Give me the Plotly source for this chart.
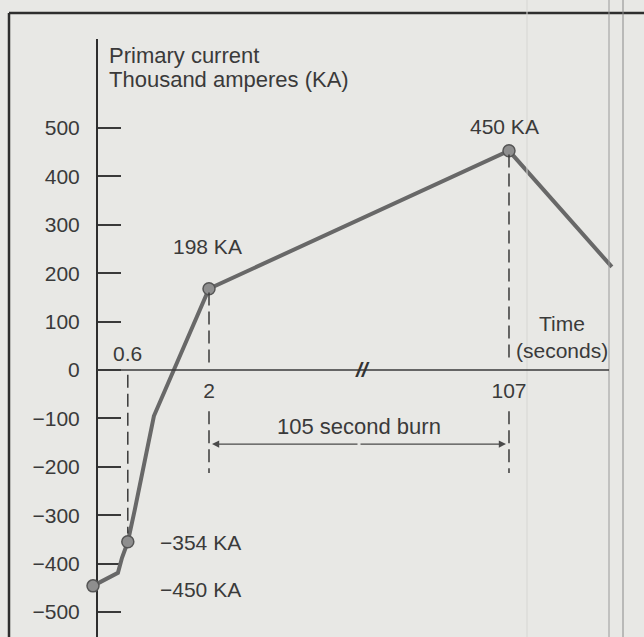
import plotly.graph_objects as go

# ---------------- data ----------------
times = [0, 0.43, 0.5, 0.6, 0.72, 0.86, 1.05, 2.0, 107, 143]          # seconds
current = [-446, -419, -388, -355, -289, -207, -95, 168, 453, 213]   # KA

marker_times = [0, 0.6, 2, 107]
marker_values = [-446, -355, 168, 453]
marker_labels = ["\u2212450 KA", "\u2212354 KA", "198 KA", "450 KA"]

y_ticks = [-500, -400, -300, -200, -100, 0, 100, 200, 300, 400, 500]
y_ticktext = [("\u2212" + str(-v)) if v < 0 else str(v) for v in y_ticks]

x_tick_times = [2, 107]
x_ticktext = ["2", "107"]
small_tick_time = 0.6
small_tick_text = "0.6"

burn_start, burn_end = 2, 107
burn_text = "105 second burn"

# ---------------- broken time axis ----------------
BREAK_AT = 2.0
AFTER_BREAK_SCALE = 0.04926  # compression of the time axis after the break


def disp(t):
    return t if t <= BREAK_AT else BREAK_AT + (t - BREAK_AT) * AFTER_BREAK_SCALE


W, H = 644, 637
AX_X = 97      # pixel of vertical axis
DOM_X0 = 78    # pixel where the plotting domain starts
AX_TOP = 39    # pixel top of vertical axis
ZERO_Y = 370   # pixel of the time axis
X_PER_UNIT = 58.0
T0_PX = 93
Y_PER_KA = 0.484

x_range = [(DOM_X0 - T0_PX) / X_PER_UNIT, (W - T0_PX) / X_PER_UNIT]
y_range = [(ZERO_Y - H) / Y_PER_KA, (ZERO_Y - AX_TOP) / Y_PER_KA]

INK = "#3a3a3a"
BG = "#e8e8e5"
FONT = "Liberation Sans, Arial, sans-serif"
FS = 21
FS_BIG = 22


def px(x):
    return x / W


def py(y):
    return 1 - y / H


fig = go.Figure()

fig.add_trace(go.Scatter(
    x=[disp(t) for t in times], y=current, mode="lines",
    line=dict(color="#686868", width=4), cliponaxis=False, hoverinfo="skip",
))
fig.add_trace(go.Scatter(
    x=[disp(t) for t in marker_times], y=marker_values, mode="markers",
    marker=dict(size=12, color="#8e8e8e", line=dict(color="#555555", width=1.5)),
    cliponaxis=False, hoverinfo="skip",
))

shapes = []
# frame of the scanned page
shapes.append(dict(type="line", xref="paper", yref="paper", x0=px(9), x1=px(9), y0=py(13), y1=py(H + 5),
                   line=dict(color="#2e2e2e", width=2.5)))
shapes.append(dict(type="line", xref="paper", yref="paper", x0=px(9), x1=px(W + 5), y0=py(13), y1=py(13),
                   line=dict(color="#2e2e2e", width=2.5)))
for xx, col in [(609, "#9a9a9a"), (623, "#8a8a8a"), (527, "#d6d6d3")]:
    shapes.append(dict(type="line", xref="paper", yref="paper", x0=px(xx), x1=px(xx), y0=0, y1=1,
                       line=dict(color=col, width=1)))
# time axis line
shapes.append(dict(type="line", xref="paper", yref="y", x0=px(AX_X), x1=px(609), y0=0, y1=0,
                   line=dict(color=INK, width=1.5)))

DASH = "13px,6px"
# 0.6 s guide
shapes.append(dict(type="line", xref="x", yref="y", x0=disp(small_tick_time), x1=disp(small_tick_time),
                   y0=-10, y1=-338, line=dict(color=INK, width=1.5, dash=DASH)))
# 2 s and 107 s guides
for t, v in [(burn_start, marker_values[2]), (burn_end, marker_values[3])]:
    shapes.append(dict(type="line", xref="x", yref="y", x0=disp(t), x1=disp(t), y0=v - 8, y1=14,
                       line=dict(color=INK, width=1.5, dash=DASH)))
    shapes.append(dict(type="line", xref="x", yref="y", x0=disp(t), x1=disp(t), y0=-85, y1=-213,
                       line=dict(color=INK, width=1.5, dash=DASH)))

annotations = []
# marker labels
label_offsets = [
    dict(xanchor="left", yanchor="middle", xshift=65, yshift=-4),
    dict(xanchor="left", yanchor="middle", xshift=30, yshift=-1),
    dict(xanchor="center", yanchor="middle", xshift=-2, yshift=42),
    dict(xanchor="center", yanchor="middle", xshift=-4, yshift=24),
]
for t, v, lab, off in zip(marker_times, marker_values, marker_labels, label_offsets):
    annotations.append(dict(x=disp(t), y=v, xref="x", yref="y", text=lab, showarrow=False,
                            font=dict(family=FONT, size=FS, color=INK), **off))

# 0.6 label above the axis
annotations.append(dict(x=disp(small_tick_time), y=0, xref="x", yref="y", text=small_tick_text,
                        showarrow=False, yanchor="middle", yshift=17,
                        font=dict(family=FONT, size=FS, color=INK)))

# burn arrow
mid = (disp(burn_start) + disp(burn_end)) / 2
for end in (burn_start, burn_end):
    annotations.append(dict(x=disp(end), y=-153, ax=mid, ay=-153, xref="x", yref="y", axref="x", ayref="y",
                            text="", showarrow=True, arrowhead=2, arrowsize=1.2, arrowwidth=1.2,
                            arrowcolor="#4a4a4a", standoff=3))
annotations.append(dict(x=mid, y=-153, xref="x", yref="y", text=burn_text, showarrow=False,
                        yanchor="middle", yshift=18, font=dict(family=FONT, size=FS_BIG, color=INK)))

# axis break mark
annotations.append(dict(x=mid, y=0, xref="x", yref="y", text="<b><i>//</i></b>", showarrow=False,
                        yanchor="middle", xshift=3, yshift=1,
                        font=dict(family=FONT, size=21, color="#333333")))

# axis titles
annotations.append(dict(x=px(107), y=py(55), xref="paper", yref="paper", text="Primary current",
                        showarrow=False, xanchor="left", yanchor="middle",
                        font=dict(family=FONT, size=FS_BIG, color=INK)))
annotations.append(dict(x=px(107), y=py(79), xref="paper", yref="paper", text="Thousand amperes (KA)",
                        showarrow=False, xanchor="left", yanchor="middle",
                        font=dict(family=FONT, size=FS_BIG, color=INK)))
annotations.append(dict(x=px(562), y=py(323), xref="paper", yref="paper", text="Time",
                        showarrow=False, xanchor="center", yanchor="middle",
                        font=dict(family=FONT, size=FS, color=INK)))
annotations.append(dict(x=px(562), y=py(350), xref="paper", yref="paper", text="(seconds)",
                        showarrow=False, xanchor="center", yanchor="middle",
                        font=dict(family=FONT, size=FS, color=INK)))

fig.update_layout(
    width=W, height=H,
    margin=dict(l=0, r=0, t=0, b=0),
    paper_bgcolor=BG, plot_bgcolor="rgba(0,0,0,0)",
    showlegend=False,
    shapes=shapes, annotations=annotations,
    xaxis=dict(
        domain=[DOM_X0 / W, 1], range=x_range, anchor="free", position=(H - ZERO_Y) / H,
        showline=False, zeroline=False, showgrid=False,
        tickmode="array", tickvals=[disp(t) for t in x_tick_times], ticktext=x_ticktext,
        ticks="", ticklabelstandoff=6,
        tickfont=dict(family=FONT, size=FS, color=INK),
    ),
    yaxis=dict(
        domain=[0, (H - AX_TOP) / H], range=y_range, anchor="free", position=AX_X / W,
        showline=True, linecolor="#2e2e2e", linewidth=2, layer="below traces",
        zeroline=False, showgrid=False,
        tickmode="array", tickvals=y_ticks, ticktext=y_ticktext,
        ticks="inside", ticklen=23, tickwidth=1.5, tickcolor=INK,
        ticklabelstandoff=12,
        tickfont=dict(family=FONT, size=FS, color=INK),
    ),
)

fig.write_html("out.html", config={"displayModeBar": False},
               post_script="document.body.style.margin='0';document.body.style.background='%s';" % BG)
